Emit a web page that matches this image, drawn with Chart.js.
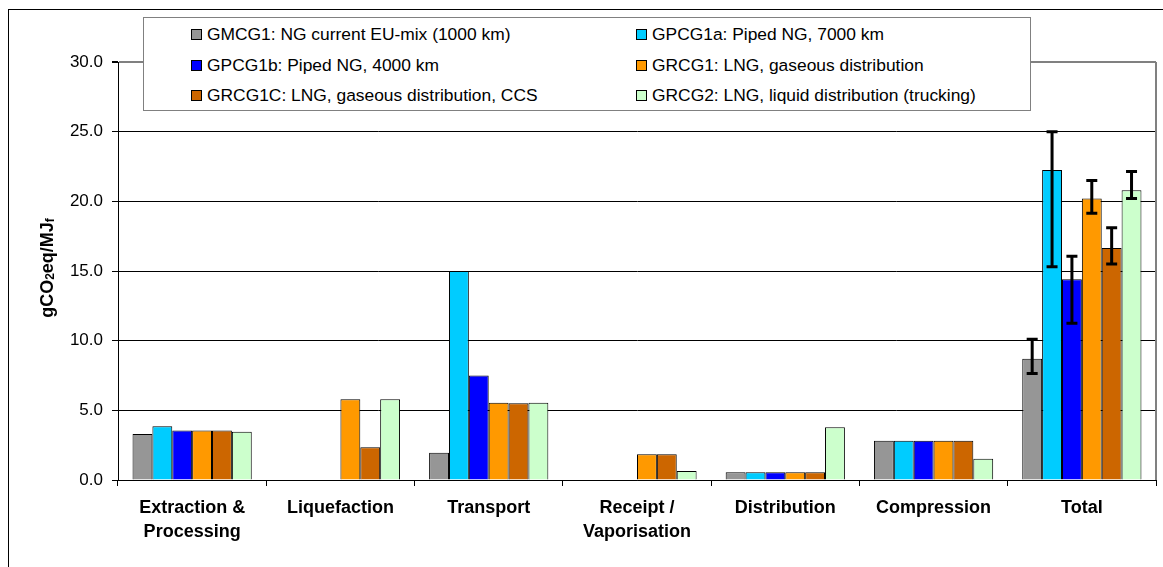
<!DOCTYPE html>
<html lang="en">
<head>
  <meta charset="UTF-8" />
  <title>GHG emissions - natural gas pathways</title>
  <script src="https://cdn.jsdelivr.net/npm/chart.js"></script>
  <style>
    body {
      margin: 0;
      background: #ffffff;
      font-family: 'Liberation Sans', Arial, sans-serif;
    }
    #wrap {
      position: relative;
      width: 1163px;
      height: 567px;
      overflow: hidden;
    }
    #frame {
      position: absolute;
      left: 8px;
      top: 9px;
      width: 1200px;
      height: 600px;
      border-left: 1px solid #000;
      border-top: 1px solid #000;
    }
    canvas {
      position: absolute;
      left: 0;
      top: 0;
    }
    #legend {
      position: absolute;
      left: 143px;
      top: 17px;
      width: 886px;
      height: 92px;
      border: 1px solid #808080;
      background: #fff;
      font-size: 17.4px;
      color: #000;
    }
    .item {
      position: absolute;
      white-space: nowrap;
      line-height: 18px;
    }
    .item span.box {
      display: inline-block;
      width: 9px;
      height: 9px;
      border: 1px solid #000;
      margin-right: 5px;
      vertical-align: 0px;
    }
  </style>
</head>
<body>
  <div id="wrap">
    <div id="frame"></div>
    <canvas id="ghgChart" width="1163" height="567"></canvas>
    <div id="legend"></div>
  </div>

  <script>
    const categories = [
      ['Extraction &', 'Processing'], 'Liquefaction', 'Transport',
      ['Receipt /', 'Vaporisation'], 'Distribution', 'Compression', 'Total'
    ];

    const seriesNames = [
      'GMCG1: NG current EU-mix (1000 km)',
      'GPCG1a: Piped NG, 7000 km',
      'GPCG1b: Piped NG, 4000 km',
      'GRCG1: LNG, gaseous distribution',
      'GRCG1C: LNG, gaseous distribution, CCS',
      'GRCG2: LNG, liquid distribution (trucking)'
    ];
    const seriesColors = ['#969696', '#00ccff', '#0000ff', '#ff9900', '#cc6600', '#ccffcc'];

    // values per series, one per category
    const gmcg1  = [3.3, 0,    1.95, 0,    0.55, 2.82, 8.7];
    const gpcg1a = [3.85, 0,   15.0, 0,    0.55, 2.82, 22.25];
    const gpcg1b = [3.55, 0,   7.5,  0,    0.55, 2.82, 14.4];
    const grcg1  = [3.55, 5.8, 5.55, 1.85, 0.55, 2.82, 20.2];
    const grcg1c = [3.55, 2.35, 5.5, 1.85, 0.55, 2.82, 16.65];
    const grcg2  = [3.47, 5.8, 5.55, 0.65, 3.78, 1.53, 20.8];

    // error range on the Total bars
    const errLow  = [7.65, 15.3, 11.25, 19.15, 15.5, 20.2];
    const errHigh = [10.1, 25.0, 16.05, 21.5, 18.1, 22.15];

    const yTicks = [0, 5, 10, 15, 20, 25, 30];

    const allSeries = [gmcg1, gpcg1a, gpcg1b, grcg1, grcg1c, grcg2];
    const fontFamily = "'Liberation Sans', Arial, sans-serif";

    // html legend in two columns
    const legend = document.getElementById('legend');
    seriesNames.forEach((name, i) => {
      const el = document.createElement('div');
      el.className = 'item';
      el.style.left = (i % 2 === 0 ? 47 : 492) + 'px';
      el.style.top = (7 + Math.floor(i / 2) * 30.5) + 'px';
      el.innerHTML = '<span class="box" style="background:' + seriesColors[i] + '"></span>' + name;
      legend.appendChild(el);
    });

    const errorBars = {
      id: 'errorBars',
      afterDatasetsDraw(chart) {
        const ctx = chart.ctx;
        const y = chart.scales.y;
        const last = categories.length - 1;
        ctx.save();
        ctx.strokeStyle = '#000';
        ctx.lineWidth = 3;
        chart.data.datasets.forEach((ds, i) => {
          const bar = chart.getDatasetMeta(i).data[last];
          const top = y.getPixelForValue(errHigh[i]);
          const bot = y.getPixelForValue(errLow[i]);
          ctx.beginPath();
          ctx.moveTo(bar.x, top);
          ctx.lineTo(bar.x, bot);
          ctx.moveTo(bar.x - 5.5, top);
          ctx.lineTo(bar.x + 5.5, top);
          ctx.moveTo(bar.x - 5.5, bot);
          ctx.lineTo(bar.x + 5.5, bot);
          ctx.stroke();
        });
        ctx.restore();
      }
    };

    const plotExtras = {
      id: 'plotExtras',
      afterDraw(chart) {
        const ctx = chart.ctx;
        const a = chart.chartArea;
        ctx.save();
        // right edge of the plot area
        ctx.strokeStyle = '#808080';
        ctx.lineWidth = 2;
        ctx.beginPath();
        ctx.moveTo(a.right, a.top);
        ctx.lineTo(a.right, a.bottom);
        ctx.stroke();

        // y title with subscripts
        ctx.translate(48, 268);
        ctx.rotate(-Math.PI / 2);
        ctx.fillStyle = '#000';
        ctx.textBaseline = 'middle';
        const parts = [['gCO', 18, 0], ['2', 12, 3], ['eq/MJ', 18, 0], ['f', 12, 3]];
        let w = 0;
        parts.forEach(p => { ctx.font = 'bold ' + p[1] + 'px ' + fontFamily; w += ctx.measureText(p[0]).width; });
        let x = -w / 2;
        parts.forEach(p => {
          ctx.font = 'bold ' + p[1] + 'px ' + fontFamily;
          ctx.fillText(p[0], x, p[2]);
          x += ctx.measureText(p[0]).width;
        });
        ctx.restore();
      }
    };

    new Chart(document.getElementById('ghgChart'), {
      type: 'bar',
      data: {
        labels: categories,
        datasets: allSeries.map((d, i) => ({
          label: seriesNames[i],
          data: d,
          backgroundColor: seriesColors[i],
          borderColor: '#000',
          borderWidth: 1,
          categoryPercentage: 0.804,
          barPercentage: 1
        }))
      },
      options: {
        responsive: false,
        animation: false,
        layout: { padding: { top: 62, right: 7, left: 0, bottom: 0 } },
        plugins: {
          legend: { display: false },
          tooltip: { enabled: false }
        },
        scales: {
          x: {
            grid: { offset: true, drawOnChartArea: false, tickLength: 6, color: '#000' },
            border: { color: '#000', width: 1 },
            ticks: {
              color: '#000',
              padding: 11,
              maxRotation: 0,
              font: { family: fontFamily, size: 18, weight: 'bold', lineHeight: 1.28 }
            },
            afterFit(scale) { scale.height = 87; }
          },
          y: {
            min: 0,
            max: 30,
            afterBuildTicks(scale) { scale.ticks = yTicks.map(v => ({ value: v })); },
            grid: {
              color: c => (c.tick && c.tick.value === 30 ? '#808080' : '#000'),
              lineWidth: c => (c.tick && c.tick.value === 30 ? 2 : 1),
              tickColor: '#000',
              tickLength: 6
            },
            border: { color: '#000', width: 1 },
            ticks: {
              color: '#000',
              padding: 9,
              font: { family: fontFamily, size: 17 },
              callback: v => Number(v).toFixed(1)
            },
            afterFit(scale) { scale.width = 118; }
          }
        }
      },
      plugins: [errorBars, plotExtras]
    });
  </script>
</body>
</html>
